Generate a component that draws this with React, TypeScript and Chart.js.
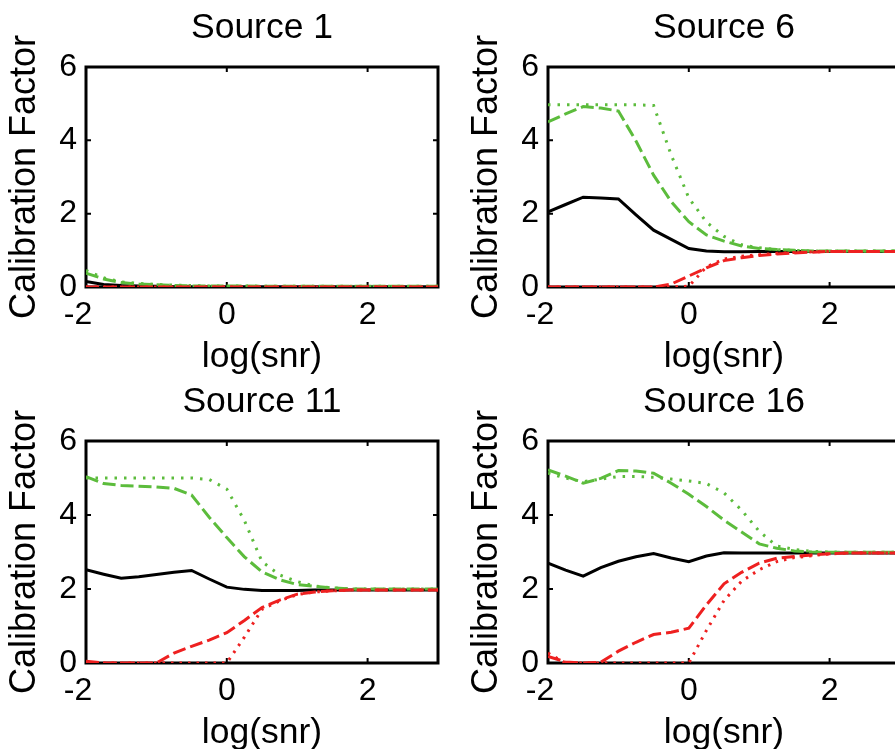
import React, { useEffect, useRef } from "react";
import { Chart, registerables } from "chart.js";

Chart.register(...registerables);

// ---------------- data ----------------
const X = [-2, -1.75, -1.5, -1.25, -1, -0.75, -0.5, -0.25, 0, 0.25, 0.5, 0.75, 1, 1.25, 1.5, 1.75, 2, 2.25, 2.5, 2.75, 3];
const X_TICKS = [-2, 0, 2];
const Y_TICKS = [0, 2, 4, 6];
const TITLES = ["Source 1", "Source 6", "Source 11", "Source 16"];
const X_LABEL = "log(snr)";
const Y_LABEL = "Calibration Factor";

// Source 1
const S1_BLACK = [0.15, 0.07, 0.04, 0.03, 0.02, 0.01, 0, 0, 0, 0, 0, 0, 0, 0, 0, 0, 0, 0, 0, 0, 0];
const S1_GREEN_DASH = [0.38, 0.22, 0.12, 0.08, 0.06, 0.04, 0.03, 0.03, 0.03, 0.03, 0.02, 0.02, 0.02, 0.02, 0.02, 0.02, 0.02, 0.02, 0.02, 0.02, 0.02];
const S1_GREEN_DOT = [0.45, 0.25, 0.14, 0.1, 0.07, 0.05, 0.04, 0.03, 0.03, 0.03, 0.02, 0.02, 0.02, 0.02, 0.02, 0.02, 0.02, 0.02, 0.02, 0.02, 0.02];
const S1_RED_DASH = [0, 0, 0, 0, 0, 0, 0, 0, 0, 0, 0, 0, 0, 0, 0, 0, 0, 0, 0, 0, 0];
const S1_RED_DOT = [0, 0, 0, 0, 0, 0, 0, 0, 0, 0, 0, 0, 0, 0, 0, 0, 0, 0, 0, 0, 0];

// Source 6
const S6_BLACK = [2.05, 2.25, 2.45, 2.43, 2.4, 1.97, 1.55, 1.3, 1.05, 0.98, 0.96, 0.96, 0.97, 0.97, 0.97, 0.97, 0.97, 0.97, 0.97, 0.97, 0.97];
const S6_GREEN_DASH = [4.5, 4.72, 4.92, 4.88, 4.8, 3.98, 3.05, 2.33, 1.78, 1.42, 1.25, 1.12, 1.05, 1.02, 1.0, 0.98, 0.98, 0.98, 0.98, 0.98, 0.98];
const S6_GREEN_DOT = [4.97, 4.97, 4.97, 4.97, 4.97, 4.97, 4.95, 3.6, 2.43, 1.77, 1.38, 1.15, 1.07, 1.02, 1.0, 0.98, 0.98, 0.98, 0.98, 0.98, 0.98];
const S6_RED_DASH = [0, 0, 0, 0, 0, 0, 0, 0.08, 0.3, 0.52, 0.72, 0.8, 0.86, 0.9, 0.93, 0.95, 0.97, 0.97, 0.97, 0.97, 0.97];
const S6_RED_DOT = [0, 0, 0, 0, 0, 0, 0, 0, 0.02, 0.55, 0.76, 0.84, 0.88, 0.92, 0.94, 0.96, 0.97, 0.97, 0.97, 0.97, 0.97];

// Source 11
const S11_BLACK = [2.52, 2.4, 2.29, 2.33, 2.39, 2.45, 2.5, 2.27, 2.05, 1.99, 1.96, 1.96, 1.96, 1.97, 1.97, 1.97, 1.97, 1.97, 1.97, 1.97, 1.97];
const S11_GREEN_DASH = [5.04, 4.85, 4.8, 4.78, 4.76, 4.72, 4.54, 3.94, 3.39, 2.87, 2.46, 2.25, 2.12, 2.07, 2.03, 2.0, 2.0, 2.0, 2.0, 2.0, 2.0];
const S11_GREEN_DOT = [5.0, 5.0, 5.0, 5.0, 5.0, 5.0, 5.0, 4.96, 4.7, 3.85, 2.74, 2.38, 2.2, 2.08, 2.03, 2.0, 2.0, 2.0, 2.0, 2.0, 2.0];
const S11_RED_DASH = [0.05, 0, 0, 0, 0, 0.27, 0.45, 0.62, 0.82, 1.15, 1.5, 1.7, 1.86, 1.92, 1.95, 1.97, 1.97, 1.97, 1.97, 1.97, 1.97];
const S11_RED_DOT = [0, 0, 0, 0, 0, 0, 0, 0, 0, 0.7, 1.45, 1.68, 1.85, 1.92, 1.95, 1.97, 1.97, 1.97, 1.97, 1.97, 1.97];

// Source 16
const S16_BLACK = [2.7, 2.51, 2.35, 2.58, 2.75, 2.87, 2.96, 2.84, 2.74, 2.89, 2.98, 2.97, 2.97, 2.97, 2.97, 2.97, 2.97, 2.97, 2.97, 2.97, 2.97];
const S16_GREEN_DASH = [5.22, 5.05, 4.86, 4.99, 5.2, 5.19, 5.13, 4.86, 4.56, 4.23, 3.86, 3.54, 3.22, 3.1, 3.03, 3.0, 2.99, 2.99, 2.99, 2.99, 2.99];
const S16_GREEN_DOT = [5.13, 5.0, 4.9, 4.97, 5.04, 5.04, 5.02, 4.97, 4.92, 4.85, 4.6, 4.13, 3.56, 3.16, 3.07, 3.02, 3.0, 2.99, 2.99, 2.99, 2.99];
const S16_RED_DASH = [0.18, 0.03, 0, 0.02, 0.32, 0.56, 0.77, 0.83, 0.94, 1.57, 2.14, 2.45, 2.7, 2.83, 2.88, 2.92, 2.95, 2.97, 2.97, 2.97, 2.97];
const S16_RED_DOT = [0.27, 0, 0, 0, 0, 0, 0, 0, 0, 0.88, 1.69, 2.21, 2.52, 2.74, 2.85, 2.9, 2.95, 2.97, 2.97, 2.97, 2.97];

const PANEL_SERIES = [
  [S1_BLACK, S1_GREEN_DASH, S1_GREEN_DOT, S1_RED_DASH, S1_RED_DOT],
  [S6_BLACK, S6_GREEN_DASH, S6_GREEN_DOT, S6_RED_DASH, S6_RED_DOT],
  [S11_BLACK, S11_GREEN_DASH, S11_GREEN_DOT, S11_RED_DASH, S11_RED_DOT],
  [S16_BLACK, S16_GREEN_DASH, S16_GREEN_DOT, S16_RED_DASH, S16_RED_DOT],
];

// ---------------- styles ----------------
const FONT = "'Liberation Sans', Arial, Helvetica, sans-serif";
const GREEN = "#5cbc3c";
const RED = "#ee2020";
const BLACK = "#000000";

const LINE_STYLES = [
  { color: BLACK, dash: [] as number[], width: 3 },
  { color: GREEN, dash: [13, 5], width: 3 },
  { color: GREEN, dash: [2.5, 7], width: 3 },
  { color: RED, dash: [13, 5], width: 3 },
  { color: RED, dash: [2.5, 6], width: 3 },
];
// draw order: reds on top, black at bottom (Chart.js draws index 0 last)
const DRAW_ORDER = [3, 4, 1, 2, 0];

const framePlugin = {
  id: "matlabFrame",
  beforeDatasetsDraw(chart: any) {
    const { ctx, chartArea: a, scales } = chart;
    ctx.save();
    ctx.strokeStyle = "#000";
    ctx.lineWidth = 3;
    ctx.strokeRect(a.left, a.top, a.right - a.left, a.bottom - a.top);
    ctx.lineWidth = 2;
    const L = 5;
    ctx.beginPath();
    for (const t of scales.x.ticks) {
      const px = scales.x.getPixelForValue(t.value);
      ctx.moveTo(px, a.bottom);
      ctx.lineTo(px, a.bottom - L);
      ctx.moveTo(px, a.top);
      ctx.lineTo(px, a.top + L);
    }
    for (const t of scales.y.ticks) {
      const py = scales.y.getPixelForValue(t.value);
      ctx.moveTo(a.left, py);
      ctx.lineTo(a.left + L, py);
      ctx.moveTo(a.right, py);
      ctx.lineTo(a.right - L, py);
    }
    ctx.stroke();
    ctx.restore();
  },
};

type PanelProps = {
  title: string;
  series: number[][];
  left: number;
  top: number;
  width: number;
  height: number;
};

const Y_AXIS_W = 86;
const X_AXIS_H = 93;
const RIGHT_PAD = 3;

function Panel({ title, series, left, top, width, height }: PanelProps) {
  const ref = useRef<HTMLCanvasElement>(null);
  useEffect(() => {
    const datasets = DRAW_ORDER.map((i) => ({
      label: String(i),
      data: X.map((x, k) => ({ x, y: series[i][k] })),
      borderColor: LINE_STYLES[i].color,
      borderWidth: LINE_STYLES[i].width,
      borderDash: LINE_STYLES[i].dash,
      borderCapStyle: "butt" as const,
      pointRadius: 0,
      tension: 0,
      fill: false,
    }));
    const chart = new Chart(ref.current!, {
      type: "line",
      data: { datasets },
      options: {
        animation: false,
        responsive: false,
        devicePixelRatio: 1,
        layout: { padding: { left: 0, right: RIGHT_PAD, top: 0, bottom: 0 } },
        plugins: {
          legend: { display: false },
          tooltip: { enabled: false },
          title: {
            display: true,
            fullSize: false,
            text: title,
            color: "#000",
            font: { family: FONT, size: 35.5, weight: "normal", lineHeight: 1.2 },
            padding: { top: 7, bottom: 17.4 },
          },
        },
        scales: {
          x: {
            type: "linear",
            min: -2,
            max: 3,
            afterBuildTicks: (s: any) => {
              s.ticks = X_TICKS.map((v) => ({ value: v }));
            },
            afterFit: (s: any) => {
              s.height = X_AXIS_H;
            },
            grid: { display: false, drawTicks: false },
            border: { display: false },
            ticks: {
              color: "#000",
              font: { family: FONT, size: 32, lineHeight: 1.2 },
              padding: 9,
              maxRotation: 0,
              autoSkip: false,
              callback: (v: any) => (Number(v) < 0 ? String(v) + "\u2002" : String(v)),
            },
            title: {
              display: true,
              text: X_LABEL,
              color: "#000",
              font: { family: FONT, size: 35.5, lineHeight: 1.2 },
              padding: { top: 0, bottom: 1.7 },
            },
          },
          y: {
            type: "linear",
            min: 0,
            max: 6,
            afterBuildTicks: (s: any) => {
              s.ticks = Y_TICKS.map((v) => ({ value: v }));
            },
            afterFit: (s: any) => {
              s.width = Y_AXIS_W;
            },
            grid: { display: false, drawTicks: false },
            border: { display: false },
            ticks: {
              color: "#000",
              font: { family: FONT, size: 32, lineHeight: 1.2 },
              padding: 9,
              autoSkip: false,
            },
            title: {
              display: true,
              text: Y_LABEL,
              color: "#000",
              font: { family: FONT, size: 36, lineHeight: 1.2 },
              padding: { top: 3.4, bottom: 0 },
            },
          },
        },
      },
      plugins: [framePlugin],
    } as any);
    return () => chart.destroy();
  }, [title, series]);
  return (
    <canvas
      ref={ref}
      width={width}
      height={height}
      style={{ position: "absolute", left, top, width, height }}
    />
  );
}

const PANEL_POS = [
  { left: 0, top: 0, width: 441, height: 380 },
  { left: 462, top: 0, width: 441, height: 380 },
  { left: 0, top: 374, width: 441, height: 382 },
  { left: 462, top: 374, width: 441, height: 382 },
];

export default function App() {
  return (
    <div
      style={{
        position: "fixed",
        left: 0,
        top: 0,
        width: 895,
        height: 749,
        overflow: "hidden",
        background: "#ffffff",
      }}
    >
      {PANEL_POS.map((p, i) => (
        <Panel key={i} title={TITLES[i]} series={PANEL_SERIES[i]} {...p} />
      ))}
    </div>
  );
}
